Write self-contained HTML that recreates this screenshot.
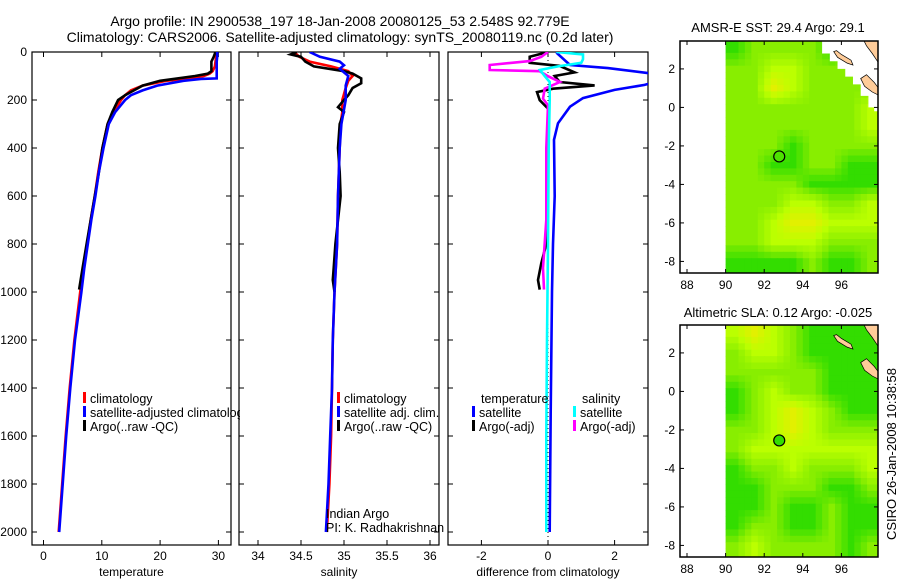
<!DOCTYPE html>
<html><head><meta charset="utf-8">
<style>
html,body{margin:0;padding:0;background:#fff;}
svg{display:block;font-family:"Liberation Sans",sans-serif;}
text{fill:#000;}
</style></head>
<body>
<svg id="fig" width="900" height="580" viewBox="0 0 900 580" xmlns="http://www.w3.org/2000/svg">
<text x="340" y="26" font-size="14" text-anchor="middle">Argo profile: IN 2900538_197 18-Jan-2008 20080125_53 2.548S 92.779E</text>
<text x="340" y="42" font-size="14" text-anchor="middle">Climatology: CARS2006. Satellite-adjusted climatology: synTS_20080119.nc (0.2d later)</text>
<text x="778" y="32" font-size="13" text-anchor="middle">AMSR-E SST: 29.4 Argo: 29.1</text>
<text x="778" y="317" font-size="13" text-anchor="middle">Altimetric SLA: 0.12 Argo: -0.025</text>
<text transform="translate(896,454) rotate(-90)" font-size="13" text-anchor="middle">CSIRO 26-Jan-2008 10:38:58</text>
<g id="plots"></g>
</svg>
<script>
// ---- profile data (depth in dbar) ----
const tClimDepth = [0,20,40,60,80,90,100,110,120,140,160,180,200,250,300,400,500,600,700,800,900,1000,1200,1400,1600,1800,2000];
const tClim      = [29.6,29.6,29.5,29.4,29,28.5,27.5,25,21,17,15,14,13.3,12,11,10.1,9.4,8.8,8.1,7.5,6.9,6.3,5.3,4.5,3.8,3.2,2.6];
const tSatDepth  = [0,20,40,60,80,100,110,112,120,140,160,180,200,250,300,400,500,600,700,800,900,1000,1200,1400,1600,1800,2000];
const tSat       = [29.8,29.8,29.7,29.7,29.7,29.7,29.7,27,24,19.5,17,15,14,12.3,11.2,10.3,9.5,8.9,8.2,7.6,7.0,6.5,5.4,4.6,3.9,3.3,2.7];
const tArgoDepth = [0,20,40,60,80,90,100,110,120,140,160,180,200,250,300,400,500,600,700,800,900,990];
const tArgo      = [29.5,29.2,28.8,28.8,28.8,28.2,26,23,20,17,15.5,14,12.8,11.8,11,10.1,9.5,8.8,8.1,7.4,6.7,6.1];

const sClimDepth = [0,20,40,60,80,100,120,150,200,250,300,400,600,800,1000,1200,1400,1600,1800,2000];
const sClim      = [34.42,34.48,34.6,34.85,35.05,35.1,35.05,35.02,34.98,34.98,34.96,34.95,34.93,34.92,34.89,34.87,34.86,34.85,34.83,34.8];
const sSatDepth  = [0,20,40,55,70,100,140,200,300,400,600,800,1000,1200,1400,1600,1800,2000];
const sSat       = [34.6,34.72,34.95,35.0,34.95,35.05,35.02,35.02,34.97,34.95,34.93,34.92,34.89,34.87,34.86,34.84,34.82,34.79];
const sArgoDepth = [0,10,20,40,60,80,90,110,130,150,180,200,230,250,300,400,500,600,700,800,900,950,1000];
const sArgo      = [34.45,34.38,34.5,34.55,34.65,35.0,35.1,35.2,35.2,35.1,35.05,35.0,34.93,35.0,34.95,34.93,34.95,34.96,34.93,34.9,34.88,34.87,34.89];

const dTSatDepth = [0,5,54,67,88,110,137,158,192,228,297,366,600,800,1000,1500,2000];
const dTSat      = [0.27,0.27,0.66,1.8,3.0,3.6,2.9,2.0,1.05,0.66,0.3,0.18,0.2,0.15,0.12,0.08,0.05];
const dTArgoDepth= [0,20,45,58,85,100,125,139,153,167,201,236,361,600,800,880,950,990];
const dTArgo     = [0,-0.55,-0.55,0.35,0.8,0.2,0.35,1.4,0.15,-0.33,-0.25,0,0,0,-0.05,-0.2,-0.3,-0.25];
const dSSatDepth = [0,10,30,45,60,75,100,125,200,400,800,1200,1600,2000];
const dSSat      = [0.25,1.05,1.05,1.0,0.3,-0.24,-0.1,0.05,0.05,0.02,0,-0.03,-0.05,-0.05];
const dSArgoDepth= [0,20,38,54,75,80,101,125,153,194,222,400,700,900,990];
const dSArgo     = [0,-0.2,-0.55,-1.75,-1.75,-0.25,0,0.36,-0.1,-0.15,0,-0.05,-0.05,-0.15,-0.12];

const depthTicks = [0,200,400,600,800,1000,1200,1400,1600,1800,2000];
const tTicks = [0,10,20,30];
const sTicks = [34,34.5,35,35.5,36];
const sTickLabels = ["34","34.5","35","35.5","36"];
const dTicks = [-2,0,2];
const lonTicks = [88,90,92,94,96];
const latTicks = [2,0,-2,-4,-6,-8];

// ---- map data: rows lat 3..-8, cols lon 90.5..97.5 (colour level 0..3)
const sstGrid = [
 [0,1,1,1,1,0,1,1],
 [1,1,2,2,1,1,1,1],
 [1,1,3,2,1,1,1,1],
 [1,1,1,1,1,1,1,2],
 [1,1,1,1,1,1,1,2],
 [1,1,1,0,1,1,1,1],
 [1,1,0,0,1,1,0,0],
 [1,1,1,1,0,0,0,0],
 [1,1,1,2,2,1,1,2],
 [1,1,2,3,3,2,2,2],
 [1,1,2,2,2,1,1,1],
 [0,0,0,0,1,0,0,1]];
const slaGrid = [
 [2,3,2,1,0,0,0,0],
 [1,2,2,1,0,0,0,0],
 [1,1,1,1,1,0,0,0],
 [0,1,2,1,1,0,0,0],
 [0,1,2,3,2,1,0,0],
 [1,1,2,3,2,1,1,1],
 [1,2,2,2,2,2,2,2],
 [0,1,1,2,1,1,1,2],
 [0,0,1,1,1,0,0,1],
 [0,0,1,0,0,1,0,0],
 [0,1,1,0,0,1,0,0],
 [1,2,1,1,1,1,0,1]];
const argoLon = 92.779, argoLat = -2.548;
const sstArgoLevel = 0.3, slaArgoLevel = 0;

const NS="http://www.w3.org/2000/svg";
const root=document.getElementById('plots');
function mk(tag,attrs,parent){const e=document.createElementNS(NS,tag);for(const k in attrs)e.setAttribute(k,attrs[k]);(parent||root).appendChild(e);return e;}
const Y0=52, Y1=545, yD=d=>52+d*0.24;

function axisPanel(name,x0,x1,xScale,ticks,labels,xlabel){
  const g=mk('g',{});
  
  
  const fr=mk('rect',{x:x0,y:Y0,width:x1-x0,height:Y1-Y0,fill:'none',stroke:'#000','stroke-width':1.2},g);
  
  
  ticks.forEach((t,i)=>{const x=xScale(t);
    mk('line',{x1:x,x2:x,y1:Y1,y2:Y1-5,stroke:'#000'},g);
    mk('line',{x1:x,x2:x,y1:Y0,y2:Y0+5,stroke:'#000'},g);
    const tl=mk('text',{x:x,y:560,'font-size':12,'text-anchor':'middle'},g);tl.textContent=labels[i];
    
    
  });
  depthTicks.forEach(d=>{const y=yD(d);
    mk('line',{x1:x0,x2:x0+5,y1:y,y2:y,stroke:'#000'},g);
    mk('line',{x1:x1,x2:x1-5,y1:y,y2:y,stroke:'#000'},g);
  });
  const xl=mk('text',{x:(x0+x1)/2,y:576,'font-size':12,'text-anchor':'middle'},g);xl.textContent=xlabel;
  
  
  const cp=mk('clipPath',{id:'clip-'+name},g);mk('rect',{x:x0,y:Y0,width:x1-x0,height:Y1-Y0},cp);
  return g;
}
function series(g,name,clip,depths,vals,xScale,color){
  const pts=depths.map((d,i)=>xScale(vals[i]).toFixed(1)+','+yD(d).toFixed(1)).join(' ');
  const p=mk('polyline',{points:pts,fill:'none',stroke:color,'stroke-width':2.6,'clip-path':'url(#clip-'+clip+')'},g);
  
  
}
function legendEntry(g,name,x,y,color,label,clip){
  mk('rect',{x:x,y:y-11,width:3,height:11,fill:color},g);
  const a={x:x+7,y:y,'font-size':12.5};
  if(clip)a['clip-path']='url(#'+clip+')';
  const t=mk('text',a,g);t.textContent=label;
  
  
}

depthTicks.forEach(d=>{const t=mk('text',{x:27,y:yD(d)+4,'font-size':12,'text-anchor':'end'});t.textContent=d;
  
  });

const lc=mk('clipPath',{id:'legend-clip'});mk('rect',{x:0,y:0,width:240,height:580},lc);

// panel 1
const xT=v=>43.5+v*5.83;
const g1=axisPanel('temperature-panel',32,231,xT,tTicks,tTicks.map(String),'temperature');
series(g1,'temp-climatology-line','temperature-panel',tClimDepth,tClim,xT,'#f00');
series(g1,'temp-argo-line','temperature-panel',tArgoDepth,tArgo,xT,'#000');
series(g1,'temp-satellite-line','temperature-panel',tSatDepth,tSat,xT,'#00f');
legendEntry(g1,'legend-climatology',83,403,'#f00','climatology');
legendEntry(g1,'legend-satellite-adjusted',83,417,'#00f','satellite-adjusted climatology','legend-clip');
legendEntry(g1,'legend-argo-raw',83,431,'#000','Argo(..raw -QC)');

// panel 2
const xS=v=>258+(v-34)*86;
const g2=axisPanel('salinity-panel',239,439,xS,sTicks,sTickLabels,'salinity');
series(g2,'sal-climatology-line','salinity-panel',sClimDepth,sClim,xS,'#f00');
series(g2,'sal-argo-line','salinity-panel',sArgoDepth,sArgo,xS,'#000');
series(g2,'sal-satellite-line','salinity-panel',sSatDepth,sSat,xS,'#00f');
legendEntry(g2,'legend-sal-climatology',337,403,'#f00','climatology');
legendEntry(g2,'legend-sal-satellite',337,417,'#00f','satellite adj. clim.');
legendEntry(g2,'legend-sal-argo',337,431,'#000','Argo(..raw -QC)');
let t=mk('text',{x:326,y:518,'font-size':12.5},g2);t.textContent='Indian Argo';

t=mk('text',{x:326,y:532,'font-size':12.5},g2);t.textContent='PI: K. Radhakrishnan';


// panel 3
const xDf=v=>548+v*33.3;
const g3=axisPanel('difference-panel',448,648,xDf,dTicks,dTicks.map(String),'difference from climatology');
mk('line',{x1:xDf(0),x2:xDf(0),y1:Y0,y2:Y1,stroke:'#000','stroke-dasharray':'1,3'},g3);
series(g3,'diff-temp-argo-line','difference-panel',dTArgoDepth,dTArgo,xDf,'#000');
series(g3,'diff-sal-argo-line','difference-panel',dSArgoDepth,dSArgo,xDf,'#f0f');
series(g3,'diff-temp-satellite-line','difference-panel',dTSatDepth,dTSat,xDf,'#00f');
series(g3,'diff-sal-satellite-line','difference-panel',dSSatDepth,dSSat,xDf,'#0ff');
t=mk('text',{x:481,y:403,'font-size':12.5},g3);t.textContent='temperature';

t=mk('text',{x:582,y:403,'font-size':12.5},g3);t.textContent='salinity';

legendEntry(g3,'legend-diff-temp-sat',472,417,'#00f','satellite');
legendEntry(g3,'legend-diff-temp-argo',472,431,'#000','Argo(-adj)');
legendEntry(g3,'legend-diff-sal-sat',573,417,'#0ff','satellite');
legendEntry(g3,'legend-diff-sal-argo',573,431,'#f0f','Argo(-adj)');

// ---- maps ----
const stops=[[0x33,0xdd,0x00],[0x88,0xee,0x00],[0xbb,0xff,0x00],[0xe2,0xf0,0x00]];
function colorAt(v){v=Math.max(0,Math.min(3,v));const i=Math.min(2,Math.floor(v)),f=v-i;
  const c=stops[i].map((a,k)=>Math.round(a+(stops[i+1][k]-a)*f));return 'rgb('+c.join(',')+')';}
function sample(grid,lon,lat){
  const fx=Math.max(0,Math.min(7,lon-90.5)), fy=Math.max(0,Math.min(11,3-lat));
  const i=Math.min(6,Math.floor(fx)), j=Math.min(10,Math.floor(fy)), a=fx-i, b=fy-j;
  return grid[j][i]*(1-a)*(1-b)+grid[j][i+1]*a*(1-b)+grid[j+1][i]*(1-a)*b+grid[j+1][i+1]*a*b;
}
function drawMap(name,top,grid,mask,argoLevel){
  const x0=680,x1=878,y1=top+232;
  const lonX=l=>687+(l-88)*19.3;
  const latY=l=>top+(3.45-l)*19.25;
  const g=mk('g',{});
  
  
  const cp=mk('clipPath',{id:'clip-'+name},g);mk('rect',{x:x0,y:top,width:x1-x0,height:y1-top},cp);
  const cg=mk('g',{'clip-path':'url(#clip-'+name+')'},g);
  const step=1/3;
  for(let lat=3.5;lat>-8.7;lat-=step){
    for(let lon=90;lon<98.2;lon+=step){
      const v=sample(grid,lon+step/2,lat-step/2);
      const c=mk('rect',{x:lonX(lon).toFixed(1),y:latY(lat).toFixed(1),width:6.9,height:6.9,fill:colorAt(v)},cg);
      
      
    }
  }
  if(mask){
    const pts=[[95,3.6],[95,2.8],[95.4,2.8],[95.4,2.4],[95.8,2.4],[95.8,2.0],[96.2,2.0],[96.2,1.6],[96.6,1.6],[96.6,1.2],[97.0,1.2],[97.0,0.6],[97.4,0.6],[97.4,0.0],[97.7,0.0],[97.7,-0.2],[98.5,-0.2],[98.5,3.6]];
    mk('polygon',{points:pts.map(p=>lonX(p[0])+','+latY(p[1])).join(' '),fill:'#fff'},cg);
  }
  const lands=[
    [[97.1,3.6],[97.3,3.2],[97.6,2.8],[97.8,2.5],[98.0,2.2],[98.5,2.2],[98.5,3.6]],
    [[95.6,2.9],[95.8,2.6],[96.3,2.3],[96.6,2.2],[96.5,2.45],[96.0,2.75],[95.75,2.95]],
    [[97.0,1.5],[97.2,1.1],[97.6,0.8],[98.0,0.6],[98.0,0.9],[97.7,1.3],[97.3,1.7]]];
  lands.forEach(L=>{const p=mk('polygon',{points:L.map(p=>lonX(p[0])+','+latY(p[1])).join(' '),fill:'#fc9',stroke:'#000','stroke-width':0.7},cg);
    });
  const fr=mk('rect',{x:x0,y:top,width:x1-x0,height:y1-top,fill:'none',stroke:'#000','stroke-width':1.5},g);
  
  lonTicks.forEach(l=>{const x=lonX(l);
    mk('line',{x1:x,x2:x,y1:y1,y2:y1-4,stroke:'#000'},g);mk('line',{x1:x,x2:x,y1:top,y2:top+4,stroke:'#000'},g);
    const tl=mk('text',{x:x,y:y1+16,'font-size':12,'text-anchor':'middle'},g);tl.textContent=l;
    });
  latTicks.forEach(l=>{const y=latY(l);
    mk('line',{x1:x0,x2:x0+4,y1:y,y2:y,stroke:'#000'},g);mk('line',{x1:x1,x2:x1-4,y1:y,y2:y,stroke:'#000'},g);
    const tl=mk('text',{x:675,y:y+4,'font-size':12,'text-anchor':'end'},g);tl.textContent=l;
    });
  const c=mk('circle',{cx:lonX(argoLon),cy:latY(argoLat),r:5.5,fill:colorAt(argoLevel),stroke:'#000','stroke-width':1.2},g);
  
  
}
drawMap('sst-map',41,sstGrid,true,sstArgoLevel);
drawMap('sla-map',325,slaGrid,false,slaArgoLevel);
</script>
</body></html>
